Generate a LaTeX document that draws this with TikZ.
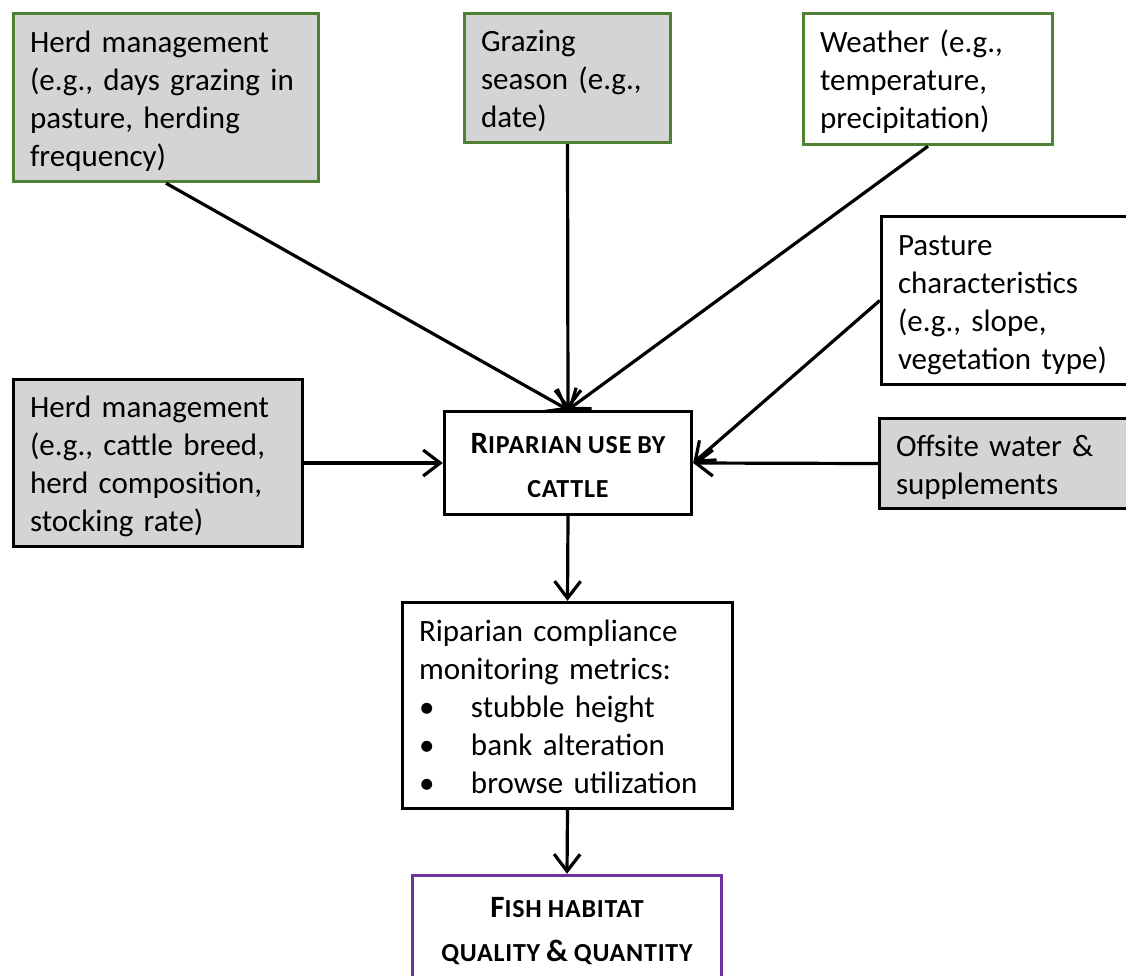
\documentclass[tikz,border=0pt]{standalone}
\usepackage{fontspec}
\setmainfont[WordSpace=0.85]{Carlito}
\usetikzlibrary{arrows.meta}
\definecolor{boxgreen}{RGB}{80,128,50}
\definecolor{boxpurple}{RGB}{112,48,160}
\definecolor{boxgray}{RGB}{212,212,212}
\newcommand\fsc[2]{{\fontsize{31}{44}\selectfont #1}{\fontsize{26}{44}\selectfont\addfontfeature{LetterSpace=3}#2}}
\newcommand\bitem[1]{\makebox[52pt][l]{\textbullet}#1}
\newcommand\tb[3]{\raisebox{#1}[\height][\depth]{\begin{tabular}{@{}#2@{}}#3\end{tabular}}}
\tikzset{
  box/.style={draw=black, line width=3.4pt, fill=white, inner xsep=16pt, inner ysep=0pt,
    font=\fontsize{31}{38}\selectfont, anchor=center},
  greenbox/.style={box, draw=boxgreen},
  graybox/.style={fill=boxgray},
  titlebox/.style={box, font=\bfseries\fontsize{31}{44}\selectfont},
  arr/.style={line width=3.2pt, -{Straight Barb[length=17pt,width=26pt,line width=3.2pt]}},
}
\begin{document}
\begin{tikzpicture}[x=1pt,y=-1pt]
\useasboundingbox (0,0) rectangle (1126,975);
\node[greenbox, graybox, minimum width=305pt, minimum height=168pt, text width=272pt] (hm1) at (166,97.5)
  {\tb{-4pt}{l}{Herd management\\(e.g., days grazing in\\pasture, herding\\frequency)}};
\node[greenbox, graybox, minimum width=206pt, minimum height=129pt, text width=173pt] (gs) at (567.5,78)
  {\tb{-4pt}{l}{Grazing\\season (e.g.,\\date)}};
\node[greenbox, minimum width=249pt, minimum height=131pt, text width=216pt] (wx) at (928,79)
  {\tb{-4pt}{l}{Weather (e.g.,\\temperature,\\precipitation)}};
\node[box, minimum width=257pt, minimum height=168pt, text width=224pt] (pc) at (1010,300.5)
  {\tb{-4pt}{l}{Pasture\\characteristics\\(e.g., slope,\\vegetation type)}};
\node[box, graybox, minimum width=289pt, minimum height=167pt, text width=256pt] (hm2) at (158,463)
  {\tb{-4pt}{l}{Herd management\\(e.g., cattle breed,\\herd composition,\\stocking rate)}};
\node[titlebox, minimum width=247pt, minimum height=103pt] (ru) at (568,463)
  {\tb{-4pt}{c}{\fsc{R}{IPARIAN}\space\fsc{}{USE}\space\fsc{}{BY}\\\fsc{}{CATTLE}}};
\node[box, graybox, minimum width=259pt, minimum height=90pt, text width=226pt] (ow) at (1009,463.5)
  {\tb{-4pt}{l}{Offsite water \&\\supplements}};
\node[box, minimum width=330pt, minimum height=206pt, text width=297pt] (mm) at (567.5,705.5)
  {\tb{-4pt}{l}{Riparian compliance\\monitoring metrics:\\\bitem{stubble height}\\\bitem{bank alteration}\\\bitem{browse utilization}}};
\node[titlebox, draw=boxpurple, minimum width=309pt, minimum height=109pt] (fh) at (567,930)
  {\tb{-1pt}{c}{\fsc{F}{ISH}\space\fsc{}{HABITAT}\\\fsc{}{QUALITY}\space\fsc{\&}{}\space\fsc{}{QUANTITY}}};
\draw[arr] (hm1.south) -- (ru.north);
\draw[arr] (gs.south) -- (ru.north);
\draw[arr] (wx.south) -- (ru.north);
\draw[arr] (pc.west) -- (ru.east);
\draw[arr] (hm2.east) -- (ru.west);
\draw[arr] (ow.west) -- (ru.east);
\draw[arr] (ru.south) -- (mm.north);
\draw[arr] (mm.south) -- (fh.north);
\end{tikzpicture}
\end{document}
